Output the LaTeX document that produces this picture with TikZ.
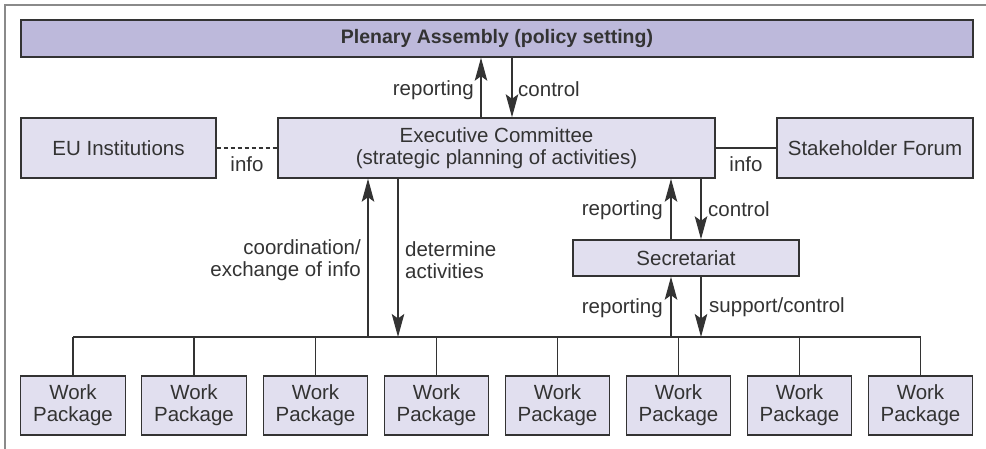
\documentclass[tikz,border=0pt]{standalone}
\usepackage{fontspec}
\setmainfont{Liberation Sans}
\usetikzlibrary{arrows.meta}
\definecolor{ink}{HTML}{333333}
\definecolor{boxfill}{HTML}{E1DFEF}
\definecolor{topfill}{HTML}{BDB9DB}
\definecolor{framegray}{HTML}{8A8A8A}
\begin{document}
\begin{tikzpicture}[x=1pt,y=-1pt,
  font=\fontsize{20.5}{22}\selectfont,
  every node/.style={text=ink},
  box/.style={draw=ink,line width=1.4pt,fill=boxfill,rectangle,inner sep=0pt,align=center},
  wpbox/.style={box,minimum width=104.5pt,minimum height=59pt},
  link/.style={draw=ink,line width=1.5pt},
  arr/.style={link,-{Stealth[length=23pt,width=12.5pt,inset=4.5pt]}},
  lbl/.style={inner sep=0pt}]
\useasboundingbox (0,0) rectangle (986,449);
% outer frame (top and left edges)
\draw[framegray,line width=1.6pt] (5,449) -- (5,5) -- (986,5);

% boxes
\node[box,fill=topfill,minimum width=952pt,minimum height=37pt,
      font=\fontsize{19.5}{22}\selectfont\bfseries] (plen) at (497,38.5) {Plenary Assembly (policy setting)};
\node[box,minimum width=195pt,minimum height=60pt] (eu) at (118.5,148) {EU Institutions};
\node[box,minimum width=437pt,minimum height=60pt] (exec) at (496.5,148) {Executive Committee\\(strategic planning of activities)};
\node[box,minimum width=196pt,minimum height=60pt] (stake) at (875,148) {Stakeholder Forum};
\node[box,minimum width=226pt,minimum height=36pt] (sec) at (686,258) {Secretariat};

\foreach \i/\cx in {1/73,2/194,3/315.5,4/436.5,5/557.5,6/678.5,7/799.5,8/920.5}
  \node[wpbox] (wp\i) at (\cx,405.5) {Work\\Package};

% bus linking the work packages
\coordinate (busL) at (73,337);
\coordinate (busR) at (920.5,337);
\draw[link] (busL) -- (busR);
\foreach \i in {1,...,8}
  \draw[link] (wp\i.north) -- (wp\i.north |- busL);

% side links
\draw[link,dash pattern=on 4pt off 3pt] (eu.east) -- (exec.west);
\draw[link] (exec.east) -- (stake.west);
\node[lbl] (info1) at (247,164) {info};
\node[lbl] (info2) at (746,164) {info};

% plenary <-> executive
\draw[arr] ([xshift=-15.5pt]exec.north) -- ([xshift=-15.5pt]exec.north |- plen.south);
\draw[arr] ([xshift=15.5pt]exec.north |- plen.south) -- ([xshift=15.5pt]exec.north);
\node[lbl,anchor=east] (rep1) at (474,90) {reporting};
\node[lbl,anchor=west] (ctl1) at (518,89) {control};

% executive <-> work packages
\draw[arr] ([xshift=-128.5pt]exec.south |- busL) -- ([xshift=-128.5pt]exec.south);
\draw[arr] ([xshift=-98.5pt]exec.south) -- ([xshift=-98.5pt]exec.south |- busL);
\node[lbl,anchor=east,align=right] (coord) at (361,260) {coordination/\\exchange of info};
\node[lbl,anchor=west,align=left] (determ) at (405,260) {determine\\activities};

% executive <-> secretariat
\draw[arr] ([xshift=-15pt]sec.north) -- ([xshift=-15pt]sec.north |- exec.south);
\draw[arr] ([xshift=15pt]sec.north |- exec.south) -- ([xshift=15pt]sec.north);
\node[lbl,anchor=east] (rep2) at (663,210) {reporting};
\node[lbl,anchor=west] (ctl2) at (708,209) {control};

% secretariat <-> work packages
\draw[arr] ([xshift=-15pt]sec.south |- busL) -- ([xshift=-15pt]sec.south);
\draw[arr] ([xshift=15pt]sec.south) -- ([xshift=15pt]sec.south |- busL);
\node[lbl,anchor=east] (rep3) at (663,308) {reporting};
\node[lbl,anchor=west] (supp) at (709,307) {support/control};
\end{tikzpicture}
\end{document}
